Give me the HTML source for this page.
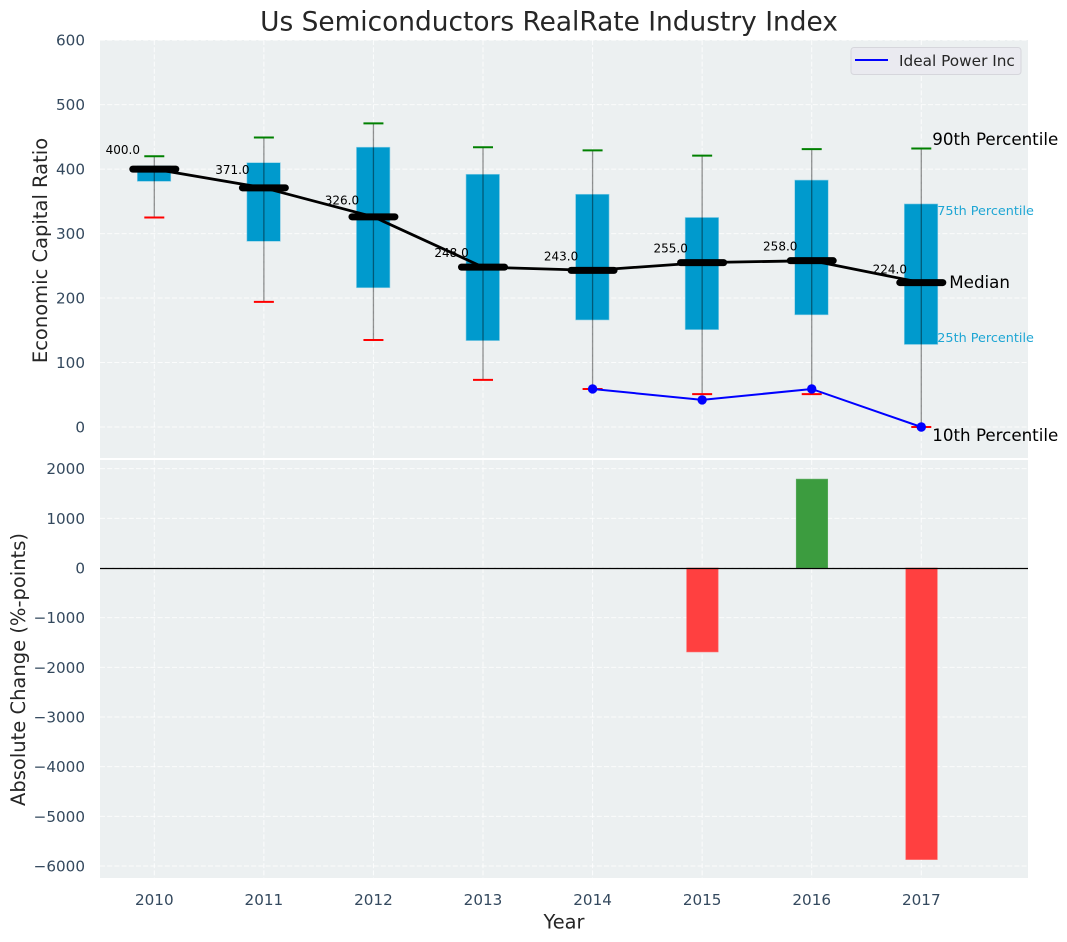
<!DOCTYPE html>
<html><head><meta charset="utf-8"><title>Us Semiconductors RealRate Industry Index</title>
<style>
html,body{margin:0;padding:0;background:#fff;width:1067px;height:942px;overflow:hidden}
svg{display:block;font-family:"DejaVu Sans","Liberation Sans",sans-serif}
</style></head>
<body>
<svg id="chart" xmlns="http://www.w3.org/2000/svg" width="1067" height="942" viewBox="0 0 1067 942">
<text x="549" y="30.5" text-anchor="middle" font-size="26.4" fill="#262626">Us Semiconductors RealRate Industry Index</text>
<rect x="100" y="40" width="928" height="418" fill="#ecf0f1"/>
<rect x="100" y="460" width="928" height="418" fill="#ecf0f1"/>
<g id="grid"></g><g id="bars"></g><g id="boxes"></g><g id="lines"></g><g id="labels"></g>
<text transform="translate(47,250.5) rotate(-90)" text-anchor="middle" font-size="19.5" fill="#262626">Economic Capital Ratio</text>
<text transform="translate(25,669.5) rotate(-90)" text-anchor="middle" font-size="19.5" fill="#262626">Absolute Change (%-points)</text>
<text x="564" y="928.5" text-anchor="middle" font-size="19.4" fill="#262626">Year</text>
<g>
<rect x="851" y="47.5" width="170" height="27" rx="3" fill="#eaeaf0" stroke="#d6d6dc"/>
<line x1="855" x2="888" y1="60" y2="60" stroke="#0000ff" stroke-width="2"/>
<text x="899" y="66" font-size="15.3" fill="#262626">Ideal Power Inc</text>
</g>
</svg>
<script>
const years = [2010, 2011, 2012, 2013, 2014, 2015, 2016, 2017];
const p10 = [325, 194, 135, 73, 59, 51, 51, 0];
const p25 = [381, 288, 216, 134, 166, 151, 174, 128];
const medians = [400, 371, 326, 248, 243, 255, 258, 224];
const p75 = [405, 410, 434, 392, 361, 325, 383, 346];
const p90 = [420, 449, 471, 434, 429, 421, 431, 432];
const companyYears = [2014, 2015, 2016, 2017];
const companyValues = [59, 42, 59, 0];
const changeYears = [2015, 2016, 2017];
const changeValues = [-1690, 1790, -5870];
const topTicks = [0, 100, 200, 300, 400, 500, 600];
const bottomTicks = [2000, 1000, 0, -1000, -2000, -3000, -4000, -5000, -6000];

const NS = 'http://www.w3.org/2000/svg';
const xS = v => 154.3 + (v - 2010) * 109.57;
const yT = v => 427 - v * 0.6447;
const yB = v => 568 - v * 0.04967;
function mk(parent, tag, attrs, txt) {
  const el = document.createElementNS(NS, tag);
  for (const k in attrs) el.setAttribute(k, attrs[k]);
  if (txt !== undefined) el.textContent = txt;
  document.getElementById(parent).appendChild(el);
  return el;
}
const dash = {stroke: '#ffffff', 'stroke-width': 1, 'stroke-dasharray': '5 2.2', opacity: 0.8};
function fmt(v) { return (v < 0 ? '\u2212' + (-v) : '' + v); }

years.forEach(yr => {
  let a = mk('grid', 'line', Object.assign({x1: xS(yr), x2: xS(yr), y1: 40, y2: 458}, dash));
  
  
  let b = mk('grid', 'line', Object.assign({x1: xS(yr), x2: xS(yr), y1: 460, y2: 878}, dash));
  
  
  let t = mk('labels', 'text', {x: xS(yr), y: 905, 'text-anchor': 'middle', 'font-size': 15.2, fill: '#34495e'}, yr);
  
  
});
topTicks.forEach(v => {
  let a = mk('grid', 'line', Object.assign({x1: 100, x2: 1028, y1: yT(v), y2: yT(v)}, dash));
  
  
  let t = mk('labels', 'text', {x: 85, y: yT(v) + 5.5, 'text-anchor': 'end', 'font-size': 15.2, fill: '#34495e'}, fmt(v));
  
  
});
bottomTicks.forEach(v => {
  let a = mk('grid', 'line', Object.assign({x1: 100, x2: 1028, y1: yB(v), y2: yB(v)}, dash));
  
  
  let t = mk('labels', 'text', {x: 85, y: yB(v) + 5.5, 'text-anchor': 'end', 'font-size': 15.2, fill: '#34495e'}, fmt(v));
  
  
});

changeYears.forEach((yr, i) => {
  const v = changeValues[i];
  const top = Math.min(yB(v), yB(0));
  const r = mk('bars', 'rect', {x: xS(yr) - 15.5, y: top, width: 31.5, height: Math.abs(yB(v) - yB(0)),
    fill: v < 0 ? '#ff4040' : '#3c9c3f', stroke: v < 0 ? '#ff6666' : '#5fae62', 'stroke-width': 0.6});
  
  
});
const zero = mk('bars', 'line', {x1: 100, x2: 1028, y1: yB(0) + 0.5, y2: yB(0) + 0.5, stroke: '#000', 'stroke-width': 1.3});



years.forEach((yr, i) => {
  const x = xS(yr);
  const box = mk('boxes', 'rect', {x: x - 17, y: yT(p75[i]), width: 33.5, height: yT(p25[i]) - yT(p75[i]),
    fill: '#009acd', stroke: '#8fd0e6', 'stroke-width': 0.6});
  
  
  const wh = mk('boxes', 'line', {x1: x, x2: x, y1: yT(p90[i]), y2: yT(p10[i]), stroke: '#000', 'stroke-opacity': 0.42, 'stroke-width': 1.3});
  
  
  const hi = mk('boxes', 'line', {x1: x - 10, x2: x + 10, y1: yT(p90[i]), y2: yT(p90[i]), stroke: '#008000', 'stroke-width': 2});
  
  
  const lo = mk('boxes', 'line', {x1: x - 10, x2: x + 10, y1: yT(p10[i]), y2: yT(p10[i]), stroke: '#ff0000', 'stroke-width': 2});
  
  
});

const medLine = mk('lines', 'polyline', {points: years.map((yr, i) => xS(yr) + ',' + yT(medians[i])).join(' '), fill: 'none', stroke: '#000', 'stroke-width': 2.8});


years.forEach((yr, i) => {
  const x = xS(yr), y = yT(medians[i]);
  const m = mk('lines', 'line', {x1: x - 21.5, x2: x + 21.5, y1: y, y2: y, stroke: '#000', 'stroke-width': 7, 'stroke-linecap': 'round'});
  
  
  const t = mk('labels', 'text', {x: x - 14.3, y: yT(medians[i] * 1.05) - 2, 'text-anchor': 'end', 'font-size': 12, fill: '#000'}, medians[i].toFixed(1));
  
  
});
const coLine = mk('lines', 'polyline', {points: companyYears.map((yr, i) => xS(yr) + ',' + yT(companyValues[i])).join(' '), fill: 'none', stroke: '#0000ff', 'stroke-width': 2});


companyYears.forEach((yr, i) => {
  const c = mk('lines', 'circle', {cx: xS(yr), cy: yT(companyValues[i]), r: 4.7, fill: '#0000ff'});
  
  
});

const last = years.length - 1;
const lx = xS(years[last]);
const a90 = mk('labels', 'text', {x: lx + 11, y: yT(p90[last]) - 3.5, 'font-size': 16.7, fill: '#000'}, '90th Percentile');


const a75 = mk('labels', 'text', {x: lx + 16, y: yT(p75[last]) + 11, 'font-size': 12.8, fill: '#1fa6d4'}, '75th Percentile');


const aM = mk('labels', 'text', {x: lx + 28, y: yT(medians[last]) + 5.5, 'font-size': 16.7, fill: '#000'}, 'Median');


const a25 = mk('labels', 'text', {x: lx + 16, y: yT(p25[last]) - 2.5, 'font-size': 12.8, fill: '#1fa6d4'}, '25th Percentile');


const a10 = mk('labels', 'text', {x: lx + 11, y: yT(p10[last]) + 14, 'font-size': 16.7, fill: '#000'}, '10th Percentile');


</script>
</body></html>
